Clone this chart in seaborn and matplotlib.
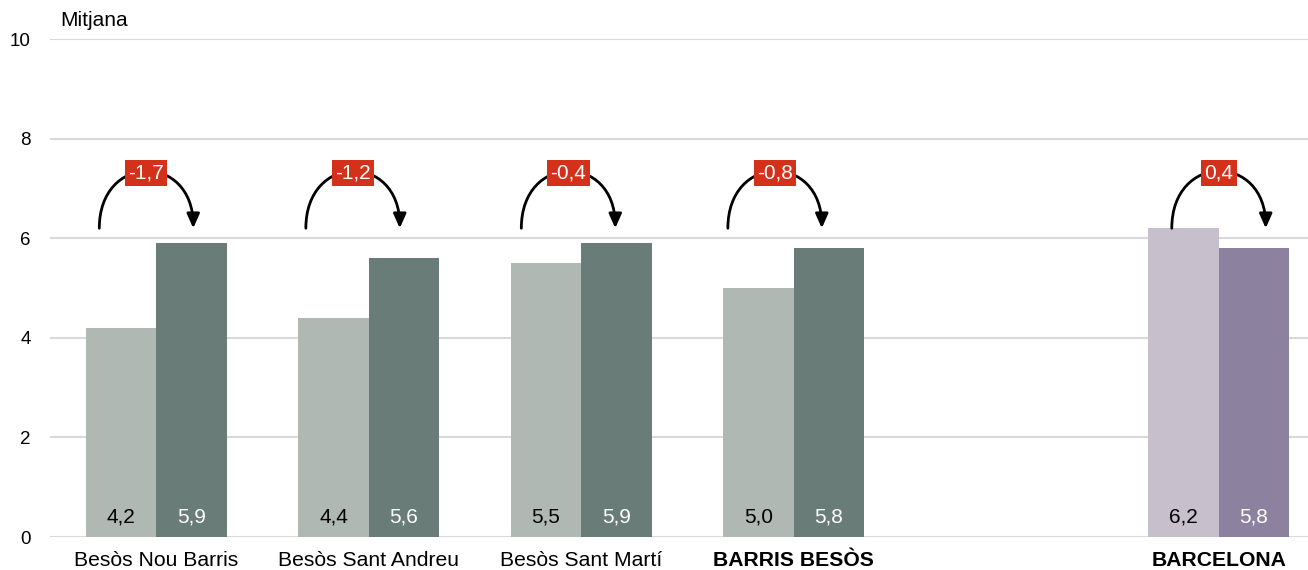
import numpy as np
import pandas as pd
import seaborn as sns
import matplotlib.pyplot as plt
from matplotlib.path import Path
from matplotlib.patches import FancyArrowPatch

# Data
categories = ["Besòs Nou Barris", "Besòs Sant Andreu", "Besòs Sant Martí", "BARRIS BESÒS", " ", "BARCELONA"]
periods = ["Període 1", "Període 2"]
values_p1 = [4.2, 4.4, 5.5, 5.0, None, 6.2]
values_p2 = [5.9, 5.6, 5.9, 5.8, None, 5.8]
diffs = [-1.7, -1.2, -0.4, -0.8, None, 0.4]
bold_labels = ["BARRIS BESÒS", "BARCELONA"]

rows = []
for c, a, b in zip(categories, values_p1, values_p2):
    if a is None:
        continue
    rows.append({"zona": c, "periode": periods[0], "valor": a})
    rows.append({"zona": c, "periode": periods[1], "valor": b})
df = pd.DataFrame(rows)

sns.set_style("white")
plt.rcParams["font.family"] = ["Liberation Sans", "DejaVu Sans"]
plt.rcParams["text.color"] = "black"

fig = plt.figure(figsize=(13.08, 5.7), dpi=100)
ax = fig.add_axes([50 / 1308, 33 / 570, 1258 / 1308, 498 / 570])

greens = ["#AEBAB3", "#677F78"]
purples = ["#C8BFCC", "#8C819E"]

sns.barplot(data=df, x="zona", y="valor", hue="periode", order=categories,
            hue_order=periods, palette=greens, width=0.664, gap=0,
            linewidth=0, ax=ax, legend=False, zorder=3, errorbar=None)

# recolor Barcelona bars and add value labels
for i, cont in enumerate(ax.containers):
    for bar in cont:
        h = bar.get_height()
        if np.isnan(h) or h == 0:
            continue
        bar.set_edgecolor("none")
        xc = bar.get_x() + bar.get_width() / 2
        if xc > 4.5:
            bar.set_facecolor(purples[i])
        ax.text(xc, 0.4, f"{h:.1f}".replace(".", ","), ha="center", va="center",
                fontsize=15, color="black" if i == 0 else "white", zorder=5)

# difference arcs and labels (slightly left of group centre, as in the original)
shift = [-0.047, -0.075, -0.061, -0.089, 0, 0]
for k, d in enumerate(diffs):
    if d is None:
        continue
    xm = k + shift[k]
    x0, x1 = xm - 0.221, xm + 0.221
    y0, yc = 6.2, 7.72
    path = Path([(x0, y0), (x0, yc), (x1, yc), (x1, y0)],
                [Path.MOVETO, Path.CURVE4, Path.CURVE4, Path.CURVE4])
    arr = FancyArrowPatch(path=path, arrowstyle="-|>,head_length=0.72,head_width=0.32",
                          mutation_scale=12, color="black", lw=2, zorder=4)
    ax.add_patch(arr)
    ax.text(xm, 7.31, f"{d:.1f}".replace(".", ","), ha="center", va="center",
            fontsize=15, color="white", zorder=6,
            bbox=dict(boxstyle="square,pad=0.16", fc="#D4311A", ec="none"))

ax.set_ylim(0, 10)
ax.set_xlim(-0.5, 5.42)
ax.set_yticks(range(0, 11, 2))
ax.yaxis.grid(True, color="#D9D9D9", lw=1.5, zorder=0)
ax.set_axisbelow(True)
for s in ax.spines.values():
    s.set_visible(False)
ax.set_xlabel("")
ax.set_ylabel("")
ax.tick_params(axis="y", length=0, pad=14, labelsize=13.5, labelcolor="black")
ax.tick_params(axis="x", length=0, pad=10, labelsize=15.2, labelcolor="black")
for lbl in ax.get_xticklabels():
    if lbl.get_text() in bold_labels:
        lbl.set_fontweight("bold")

fig.text(60 / 1308, 1 - 20 / 570, "Mitjana", fontsize=15, va="center", ha="left")

fig.savefig("out.png", dpi=100)
